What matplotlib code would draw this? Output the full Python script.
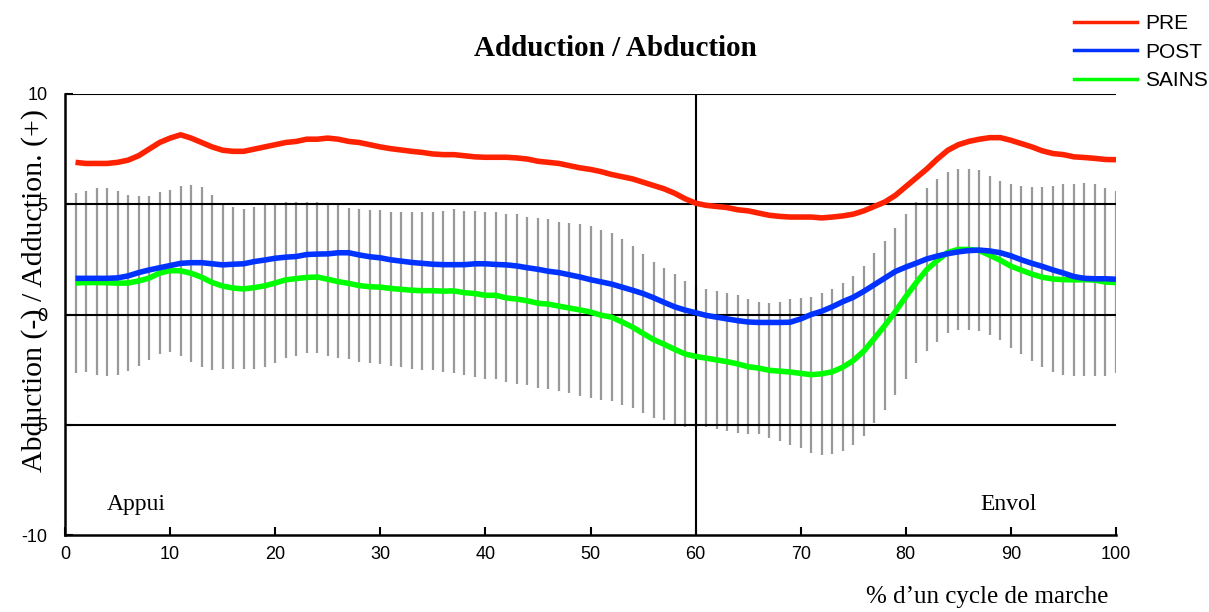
import numpy as np
import matplotlib
matplotlib.use('Agg')
import matplotlib.pyplot as plt
from matplotlib.lines import Line2D

# % of gait cycle
pct = np.arange(1, 101)

pre = [6.9, 6.85, 6.85, 6.85, 6.9, 7.0, 7.2, 7.5, 7.8, 8.0,
       8.15, 8.0, 7.8, 7.6, 7.45, 7.4, 7.4, 7.5, 7.6, 7.7,
       7.8, 7.85, 7.95, 7.95, 8.0, 7.95, 7.85, 7.8, 7.7, 7.6,
       7.52, 7.46, 7.4, 7.35, 7.28, 7.25, 7.25, 7.2, 7.15, 7.13,
       7.13, 7.13, 7.1, 7.05, 6.95, 6.9, 6.85, 6.75, 6.65, 6.58,
       6.48, 6.35, 6.25, 6.15, 6.0, 5.85, 5.7, 5.5, 5.25, 5.05,
       4.95, 4.9, 4.85, 4.75, 4.7, 4.6, 4.5, 4.45, 4.42, 4.42,
       4.42, 4.38, 4.42, 4.47, 4.55, 4.7, 4.9, 5.1, 5.4, 5.8,
       6.2, 6.6, 7.05, 7.45, 7.7, 7.85, 7.95, 8.02, 8.02, 7.9,
       7.75, 7.6, 7.42, 7.3, 7.25, 7.15, 7.12, 7.08, 7.03, 7.02]

post = [1.64, 1.64, 1.64, 1.64, 1.66, 1.75, 1.9, 2.02, 2.12, 2.22,
        2.32, 2.35, 2.35, 2.3, 2.25, 2.28, 2.3, 2.4, 2.47, 2.55,
        2.6, 2.63, 2.72, 2.74, 2.75, 2.8, 2.8, 2.7, 2.62, 2.57,
        2.48, 2.42, 2.36, 2.32, 2.28, 2.26, 2.26, 2.26, 2.3, 2.3,
        2.27, 2.25, 2.2, 2.12, 2.05, 1.96, 1.9, 1.8, 1.7, 1.58,
        1.48, 1.38, 1.24, 1.1, 0.95, 0.76, 0.55, 0.35, 0.2, 0.08,
        -0.04, -0.12, -0.2, -0.28, -0.34, -0.36, -0.36, -0.36, -0.35, -0.2,
        0.0, 0.15, 0.35, 0.58, 0.78, 1.05, 1.35, 1.65, 1.95, 2.15,
        2.33, 2.52, 2.65, 2.76, 2.84, 2.9, 2.92, 2.88, 2.8, 2.66,
        2.48, 2.32, 2.18, 2.02, 1.88, 1.72, 1.64, 1.62, 1.62, 1.6]

sains = [1.43, 1.45, 1.45, 1.44, 1.42, 1.43, 1.52, 1.65, 1.88, 1.99,
         1.98, 1.87, 1.69, 1.45, 1.29, 1.2, 1.16, 1.22, 1.3, 1.43,
         1.57, 1.63, 1.68, 1.7, 1.6, 1.49, 1.41, 1.31, 1.26, 1.24,
         1.18, 1.14, 1.1, 1.08, 1.08, 1.06, 1.07, 0.99, 0.95, 0.87,
         0.87, 0.75, 0.7, 0.62, 0.51, 0.47, 0.38, 0.29, 0.21, 0.11,
         -0.03, -0.12, -0.34, -0.57, -0.86, -1.14, -1.35, -1.58, -1.79, -1.9,
         -1.98, -2.06, -2.14, -2.24, -2.37, -2.43, -2.53, -2.57, -2.61, -2.67,
         -2.73, -2.69, -2.6, -2.39, -2.09, -1.66, -1.09, -0.5, 0.13, 0.81,
         1.45, 2.04, 2.45, 2.82, 2.95, 2.95, 2.9, 2.68, 2.46, 2.19,
         2.01, 1.83, 1.69, 1.61, 1.58, 1.57, 1.58, 1.56, 1.47, 1.45]

sains_hi = [5.52, 5.6, 5.72, 5.72, 5.6, 5.42, 5.36, 5.36, 5.54, 5.66,
            5.83, 5.89, 5.77, 5.42, 5.04, 4.86, 4.77, 4.89, 5.0, 5.07,
            5.12, 5.12, 5.12, 5.12, 5.07, 4.97, 4.85, 4.79, 4.74, 4.74,
            4.67, 4.67, 4.67, 4.67, 4.67, 4.71, 4.77, 4.71, 4.71, 4.67,
            4.67, 4.54, 4.54, 4.44, 4.36, 4.32, 4.21, 4.14, 4.09, 4.01,
            3.83, 3.68, 3.42, 3.11, 2.74, 2.4, 2.09, 1.82, 1.52, 1.3,
            1.16, 1.08, 0.99, 0.88, 0.7, 0.58, 0.54, 0.58, 0.7, 0.73,
            0.81, 0.99, 1.14, 1.41, 1.75, 2.2, 2.77, 3.33, 3.91, 4.56,
            5.12, 5.72, 6.13, 6.48, 6.59, 6.59, 6.55, 6.29, 6.07, 5.9,
            5.83, 5.77, 5.77, 5.83, 5.9, 5.9, 5.95, 5.9, 5.72, 5.6]

sains_lo = [-2.67, -2.62, -2.74, -2.79, -2.74, -2.56, -2.32, -2.06, -1.79, -1.69,
            -1.87, -2.15, -2.4, -2.52, -2.46, -2.46, -2.46, -2.45, -2.4, -2.22,
            -1.99, -1.87, -1.76, -1.73, -1.87, -1.99, -2.03, -2.17, -2.22, -2.26,
            -2.32, -2.4, -2.47, -2.52, -2.52, -2.59, -2.64, -2.74, -2.82, -2.93,
            -2.93, -3.05, -3.15, -3.21, -3.35, -3.39, -3.46, -3.57, -3.68, -3.8,
            -3.88, -3.92, -4.1, -4.25, -4.45, -4.68, -4.78, -4.98, -5.09, -5.1,
            -5.12, -5.19, -5.27, -5.36, -5.43, -5.43, -5.59, -5.72, -5.92, -6.07,
            -6.27, -6.37, -6.33, -6.19, -5.92, -5.51, -4.94, -4.33, -3.65, -2.94,
            -2.22, -1.64, -1.23, -0.85, -0.7, -0.7, -0.75, -0.93, -1.16, -1.53,
            -1.81, -2.11, -2.4, -2.62, -2.74, -2.77, -2.79, -2.79, -2.79, -2.67]

serif = ['Liberation Serif', 'DejaVu Serif']
sans = ['Liberation Sans', 'DejaVu Sans']
plt.rcParams['font.family'] = sans
plt.rcParams['axes.unicode_minus'] = False

fig = plt.figure(figsize=(12.09, 6.12), dpi=100)
ax = fig.add_axes([65 / 1209, 77 / 612, 1051 / 1209, 441 / 612])

ax.vlines(pct, sains_lo, sains_hi, color='#999999', lw=1.6, zorder=1)
for yv in [10, 5, 0, -5]:
    ax.axhline(yv, color='black', lw=1.5, zorder=2)
ax.axvline(60, color='black', lw=1.5, zorder=2)

ax.plot(pct, sains, color='#00ff00', lw=4, zorder=3, solid_capstyle='butt')
ax.plot(pct, post, color='#0033ff', lw=4, zorder=4, solid_capstyle='butt')
ax.plot(pct, pre, color='#ff2200', lw=4, zorder=5, solid_capstyle='butt')

ax.set_xlim(0, 100)
ax.set_ylim(-10, 10)
ax.spines['top'].set_visible(False)
ax.spines['right'].set_visible(False)
ax.spines['left'].set_linewidth(1.8)
ax.spines['bottom'].set_linewidth(1.8)
ax.set_xticks(range(0, 101, 10))
ax.set_yticks([-10, -5, 0, 5, 10])
ax.tick_params(axis='both', direction='in', length=6, width=1.5, labelsize=13)
ax.tick_params(axis='x', pad=8)
ax.tick_params(axis='y', pad=12.5)

ax.text(4.0, -8.6, 'Appui', family=serif, fontsize=17, ha='left', va='center')
ax.text(87.1, -8.6, 'Envol', family=serif, fontsize=17, ha='left', va='center')

fig.text(615 / 1209, 1 - 48 / 612, 'Adduction / Abduction', family=serif,
         fontsize=21, weight='bold', ha='center', va='center')
fig.text(35 / 1209, 1 - 291 / 612, 'Abduction (-) / Adduction. (+)', family=serif,
         fontsize=21.5, rotation=90, ha='center', va='center')
fig.text(1108 / 1209, 1 - 597 / 612, '% d\u2019un cycle de marche', family=serif,
         fontsize=18, ha='right', va='center')

handles = [Line2D([], [], color='#ff2200', lw=2.5),
           Line2D([], [], color='#0033ff', lw=2.5),
           Line2D([], [], color='#00ff00', lw=2.5)]
fig.legend(handles, ['PRE', 'POST', 'SAINS'], loc='upper left',
           bbox_to_anchor=(1066 / 1209, 1 - 6 / 612), frameon=False,
           prop={'family': sans, 'size': 15}, handlelength=3.0,
           handletextpad=0.4, labelspacing=0.45, borderaxespad=0)

fig.savefig('out.png', dpi=100)
